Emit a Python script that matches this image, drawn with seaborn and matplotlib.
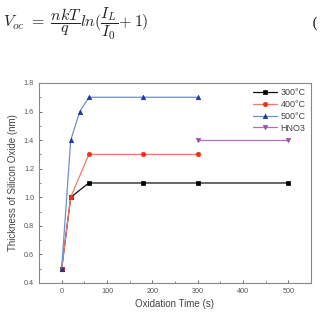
import matplotlib
matplotlib.use('Agg')
import matplotlib.pyplot as plt
import pandas as pd
import seaborn as sns

# oxidation time (s) and thickness (nm) per series
t_300 = [0, 20, 60, 180, 300, 500]
y_300 = [0.5, 1.0, 1.1, 1.1, 1.1, 1.1]
t_400 = [0, 20, 60, 180, 300]
y_400 = [0.5, 1.0, 1.3, 1.3, 1.3]
t_500 = [0, 20, 40, 60, 180, 300]
y_500 = [0.5, 1.4, 1.6, 1.7, 1.7, 1.7]
t_hno3 = [300, 500]
y_hno3 = [1.4, 1.4]

labels = ['300°C', '400°C', '500°C', 'HNO3']
times = [t_300, t_400, t_500, t_hno3]
values = [y_300, y_400, y_500, y_hno3]

df = pd.concat([pd.DataFrame({'t': t, 'y': y, 's': lab})
                for t, y, lab in zip(times, values, labels)])

sns.set_style('ticks')
plt.rcParams['font.family'] = ['Liberation Sans', 'DejaVu Sans']
plt.rcParams['mathtext.fontset'] = 'cm'

fig = plt.figure(figsize=(3.21, 3.12), dpi=100)
ax = fig.add_axes([0.1215, 0.093, 0.847, 0.641])

line_cols = ['#111111', '#f07a6a', '#6f8fd0', '#b070b8']
mk_cols = ['#000000', '#ee3322', '#1a3a9a', '#a050a8']
markers = ['s', 'o', '^', 'v']

for lab, lc, mc, m in zip(labels, line_cols, mk_cols, markers):
    sns.lineplot(data=df[df.s == lab], x='t', y='y', ax=ax, color=lc,
                 marker=m, markersize=3.2, markerfacecolor=mc,
                 markeredgecolor=mc, markeredgewidth=0.5, linewidth=0.9, label=lab)

ax.set_xlim(-50, 550)
ax.set_ylim(0.4, 1.8)
ax.set_xticks([0, 100, 200, 300, 400, 500])
ax.set_xticks([50, 150, 250, 350, 450], minor=True)
ax.set_yticks([0.4, 0.6, 0.8, 1.0, 1.2, 1.4, 1.6, 1.8])
ax.set_yticks([0.5, 0.7, 0.9, 1.1, 1.3, 1.5, 1.7], minor=True)
ax.set_yticklabels(['0.4', '0.6', '0.8', '1.0', '1.2', '1.4', '1.6', '1.8'])
ax.tick_params(direction='in', labelsize=5.2, colors='#555555', length=2.5, width=0.6)
ax.tick_params(which='minor', direction='in', length=1.5, width=0.5, colors='#555555')
for sp in ax.spines.values():
    sp.set_color('#888888')
    sp.set_linewidth(0.8)
ax.set_xlabel('Oxidation Time (s)', fontsize=7, color='#444444', labelpad=3)
ax.set_ylabel('Thickness of Silicon Oxide (nm)', fontsize=7, color='#444444', labelpad=4)

leg = ax.legend(loc='upper right', frameon=False, fontsize=6.5, handlelength=2.6,
                borderaxespad=0.2, labelspacing=0.3, handletextpad=0.4)
for txt in leg.get_texts():
    txt.set_color('#444444')

fig.text(0.01, 0.925, r'$V_{oc}\ =\ \dfrac{nkT}{q}ln(\dfrac{I_L}{I_0}\!+1)$', fontsize=11.5,
         va='center', ha='left', color='#222222')
fig.text(0.972, 0.925, '(', fontsize=11, va='center', ha='left', color='#222222',
         family='DejaVu Serif')

fig.savefig('out.png', dpi=100, facecolor='white')
